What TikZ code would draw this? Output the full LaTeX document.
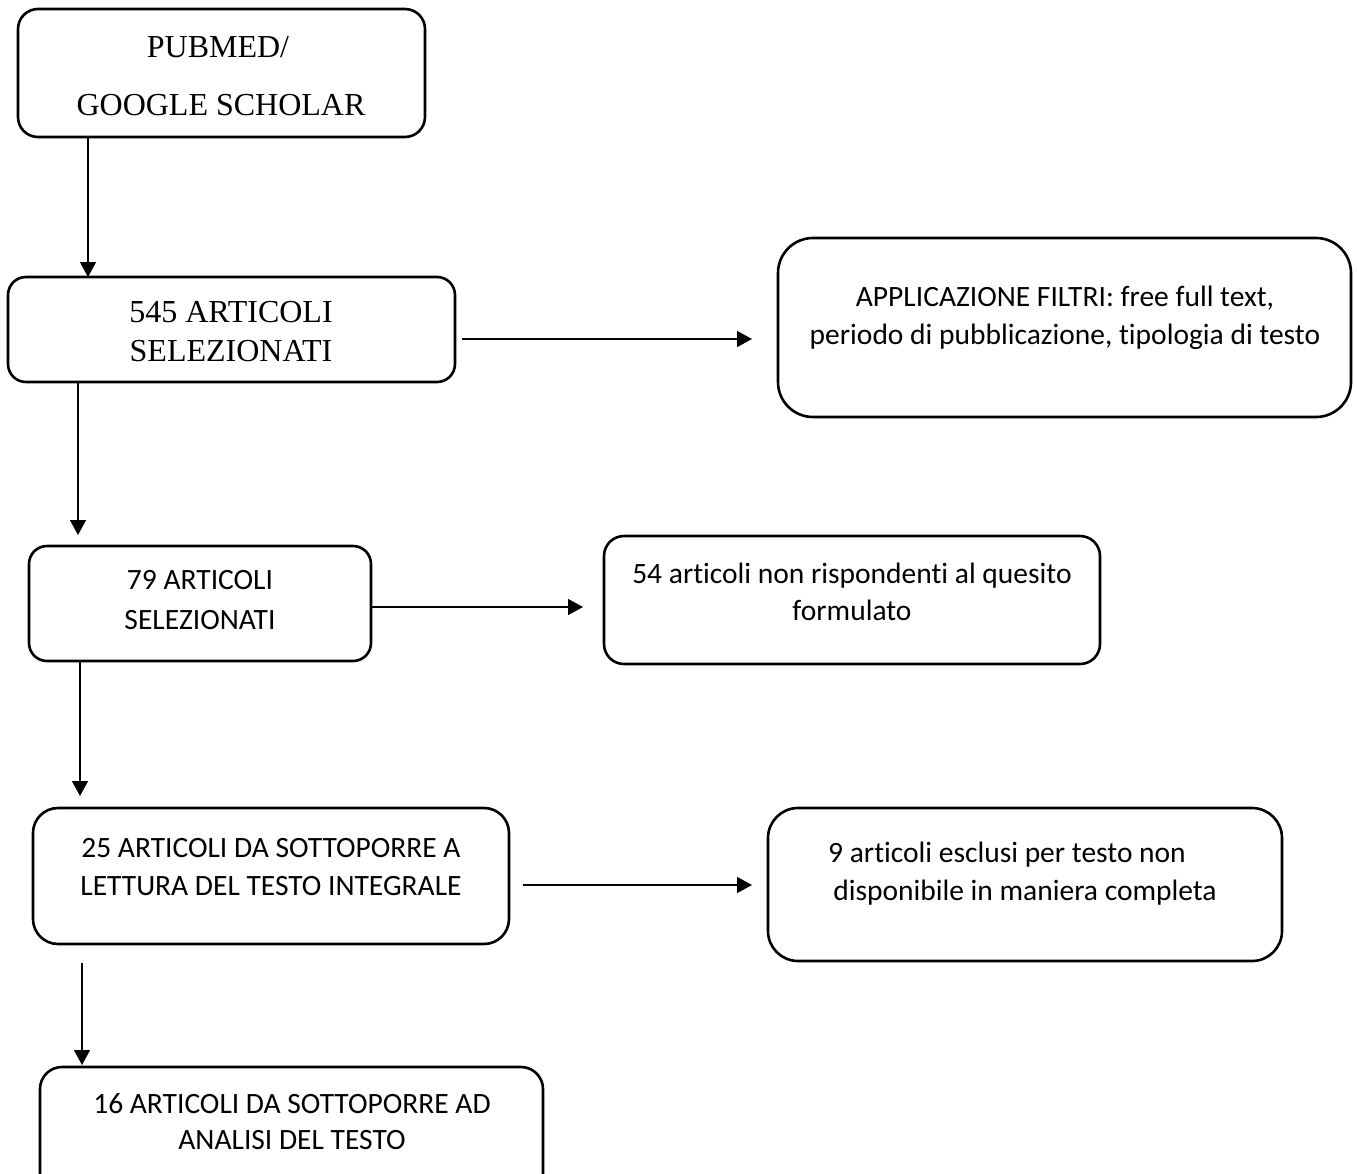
\documentclass[tikz,border=0pt]{standalone}
\usepackage{fontspec}
\setmainfont{Liberation Serif}
\newfontfamily\calfont[Ligatures=NoCommon]{Carlito}
\usetikzlibrary{arrows.meta}

\tikzset{
  box/.style={draw=black, line width=2.6pt, inner sep=0pt, outer sep=0pt},
  serif/.style={align=center, inner sep=0pt, font=\fontsize{32}{39}\selectfont},
  sans/.style={align=center, inner sep=0pt, font=\calfont\fontsize{29.5}{38}\selectfont},
  flow/.style={draw=black, line width=1.4pt, -{Triangle[length=15pt,width=16pt]}}
}

\begin{document}
\begin{tikzpicture}[x=1pt,y=-1pt]
  \useasboundingbox (0,0) rectangle (1357,1173);
  \fill[white] (0,0) rectangle (1357,1173);
  \clip (0,0) rectangle (1357,1173);

  % boxes
  \node[box, rounded corners=20pt, minimum width=407pt, minimum height=128pt] (b1) at (221.5,73) {};
  \node[box, rounded corners=18pt, minimum width=447pt, minimum height=105pt] (b2) at (231.5,329.5) {};
  \node[box, rounded corners=35pt, minimum width=573pt, minimum height=179pt] (b4) at (1064.5,327.5) {};
  \node[box, rounded corners=18pt, minimum width=342pt, minimum height=115pt] (b3) at (200,603.5) {};
  \node[box, rounded corners=20pt, minimum width=496pt, minimum height=128pt] (b5) at (852,600) {};
  \node[box, rounded corners=25pt, minimum width=476pt, minimum height=136pt] (b6) at (271,876) {};
  \node[box, rounded corners=30pt, minimum width=514pt, minimum height=153pt] (b7) at (1025,884.5) {};
  \node[box, rounded corners=22pt, minimum width=503pt, minimum height=133pt] (b8) at (291.5,1133.5) {};

  % labels
  \node[serif, font=\fontsize{32}{58}\selectfont] (t1) at (221,76) {PUBMED/\hspace*{6pt}\\GOOGLE SCHOLAR};
  \node[serif] (t2) at (231,332) {545 ARTICOLI\\SELEZIONATI};
  \node[sans] (t4) at (1065,318) {APPLICAZIONE FILTRI: free full text,\\periodo di pubblicazione, tipologia di testo};
  \node[sans, font=\calfont\fontsize{29.5}{40}\selectfont] (t3) at (200,600) {79 ARTICOLI\\SELEZIONATI};
  \node[sans, font=\calfont\fontsize{29.5}{37}\selectfont] (t5) at (852,592) {54 articoli non rispondenti al quesito\\formulato};
  \node[sans] (t6) at (271,867) {25 ARTICOLI DA SOTTOPORRE A\\LETTURA DEL TESTO INTEGRALE};
  \node[sans] (t7) at (1025,874) {9 articoli esclusi per testo non\hspace*{36pt}\\disponibile in maniera completa};
  \node[sans, font=\calfont\fontsize{29.5}{36}\selectfont] (t8) at (292,1122) {16 ARTICOLI DA SOTTOPORRE AD\\ANALISI DEL TESTO};

  % guide positions for the connectors
  \coordinate (v1) at (88,0);
  \coordinate (v2) at (78,0);
  \coordinate (v3) at (80,0);
  \coordinate (v4) at (82,0);
  \coordinate (h1) at (0,339);
  \coordinate (h2) at (0,607);
  \coordinate (h3) at (0,885);

  % vertical flow
  \draw[flow] (b1.south -| v1) -- (b2.north -| v1);
  \draw[flow, shorten >=11pt] (b2.south -| v2) -- (b3.north -| v2);
  \draw[flow, shorten >=12pt] (b3.south -| v3) -- (b6.north -| v3);
  \draw[flow, shorten <=19pt, shorten >=2pt] (b6.south -| v4) -- (b8.north -| v4);

  % side branches
  \draw[flow, shorten <=7pt, shorten >=26pt] (b2.east |- h1) -- (b4.west |- h1);
  \draw[flow, shorten <=1pt, shorten >=21pt] (b3.east |- h2) -- (b5.west |- h2);
  \draw[flow, shorten <=14pt, shorten >=16pt] (b6.east |- h3) -- (b7.west |- h3);
\end{tikzpicture}
\end{document}
